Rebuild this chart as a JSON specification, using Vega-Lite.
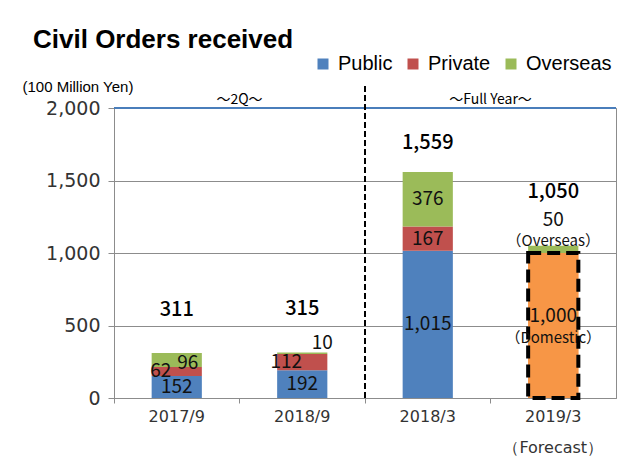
{
"$schema": "https://vega.github.io/schema/vega-lite/v6.json",
"width": 502,
"height": 290,
"autosize": {"type": "none"},
"padding": {"left": 114, "top": 108, "right": 18, "bottom": 63},
"background": "white",
"config": {"view": {"stroke": "#8c8c8c", "strokeWidth": 1}, "font": "Liberation Sans"},
"title": {"text": "Civil Orders received", "anchor": "start", "frame": "group", "dx": -81, "offset": -20, "baseline": "alphabetic", "font": "Liberation Sans", "fontSize": 26, "fontWeight": "bold", "color": "black"},
"datasets": {
  "seg": [
    {"cat": "2017/9", "s": "Public", "v": 152, "o": 1},
    {"cat": "2017/9", "s": "Private", "v": 62, "o": 2},
    {"cat": "2017/9", "s": "Overseas", "v": 96, "o": 3},
    {"cat": "2018/9", "s": "Public", "v": 192, "o": 1},
    {"cat": "2018/9", "s": "Private", "v": 112, "o": 2},
    {"cat": "2018/9", "s": "Overseas", "v": 10, "o": 3},
    {"cat": "2018/3", "s": "Public", "v": 1015, "o": 1},
    {"cat": "2018/3", "s": "Private", "v": 167, "o": 2},
    {"cat": "2018/3", "s": "Overseas", "v": 376, "o": 3},
    {"cat": "2019/3", "s": "Domestic", "v": 1000, "o": 1},
    {"cat": "2019/3", "s": "Overseas", "v": 50, "o": 3}
  ],
  "tot": [
    {"cat": "2017/9", "t": 311},
    {"cat": "2018/9", "t": 315},
    {"cat": "2018/3", "t": 1559},
    {"cat": "2019/3", "t": 1050}
  ],
  "period": [
    {"cat": "2018/9", "label": "～2Q～"},
    {"cat": "2019/3", "label": "～Full Year～"}
  ]
},
"layer": [
  {
    "data": {"name": "seg"},
    "transform": [
      {"stack": "v", "groupby": ["cat"], "sort": [{"field": "o", "order": "ascending"}], "as": ["y0", "y1"]},
      {"fold": ["y0", "y1"], "as": ["kk", "yy"]},
      {"aggregate": [{"op": "min", "field": "yy", "as": "lo"}, {"op": "max", "field": "yy", "as": "hi"}, {"op": "mean", "field": "yy", "as": "mid"}], "groupby": ["cat", "s", "v", "o"]}
    ],
    "layer": [
      {
        "mark": {"type": "bar", "width": {"band": 0.4}},
        "encoding": {
          "x": {"field": "cat", "type": "nominal", "sort": null, "scale": {"domain": ["2017/9", "2018/9", "2018/3", "2019/3"], "paddingInner": 0, "paddingOuter": 0},
                "axis": {"title": null, "labelAngle": 0, "bandPosition": 0, "domainColor": "#8c8c8c", "tickColor": "#8c8c8c", "tickSize": 5, "labelPadding": 5, "labelFont": "DejaVu Sans", "labelFontSize": 16, "labelColor": "#333333", "labelBaseline": "top", "labelLineHeight": 31,
                         "labelExpr": "datum.value == '2019/3' ? ['2019/3', '（Forecast）'] : datum.value"}},
          "y": {"field": "lo", "type": "quantitative", "scale": {"domain": [0, 2000]},
                "axis": {"title": "(100 Million Yen)", "titleAngle": 0, "titleX": -92, "titleY": -22, "titleAlign": "left", "titleBaseline": "middle", "titleFont": "Liberation Sans", "titleFontSize": 15, "titleFontWeight": "normal", "titleColor": "black",
                         "values": [0, 500, 1000, 1500, 2000], "format": ",.0f", "grid": true, "gridColor": "#8c8c8c", "domainColor": "#8c8c8c", "tickColor": "#8c8c8c", "tickSize": 6, "labelPadding": 8, "labelFont": "DejaVu Sans", "labelFontSize": 19, "labelColor": "#333333"}},
          "y2": {"field": "hi"},
          "color": {"field": "s", "type": "nominal", "scale": {"domain": ["Public", "Private", "Overseas", "Domestic"], "range": ["#4f81bd", "#c0504d", "#9bbb59", "#f79646"]},
                    "legend": {"values": ["Public", "Private", "Overseas"], "orient": "none", "legendX": 199, "legendY": -54, "direction": "horizontal", "title": null, "symbolType": "square", "symbolSize": 121, "symbolStrokeWidth": 0, "labelFont": "Liberation Sans", "labelFontSize": 20, "labelColor": "black", "columnPadding": 10, "labelOffset": 5}}
        }
      },
      {
        "transform": [{"filter": {"field": "s", "equal": "Domestic"}}],
        "mark": {"type": "bar", "width": {"band": 0.4}, "fill": "#f79646", "stroke": "black", "strokeWidth": 4, "strokeDash": [13, 6]},
        "encoding": {
          "x": {"field": "cat", "type": "nominal", "sort": null, "scale": {"domain": ["2017/9", "2018/9", "2018/3", "2019/3"]}},
          "y": {"field": "lo", "type": "quantitative", "scale": {"domain": [0, 2000]}},
          "y2": {"field": "hi"}
        }
      },
      {
        "transform": [{"filter": {"field": "v", "oneOf": [152, 192, 1015, 167, 376]}}],
        "mark": {"type": "text", "font": "Noto Sans CJK JP", "fontSize": 19, "color": "#111111", "baseline": "middle"},
        "encoding": {
          "x": {"field": "cat", "type": "nominal", "sort": null, "scale": {"domain": ["2017/9", "2018/9", "2018/3", "2019/3"]}},
          "y": {"field": "mid", "type": "quantitative", "scale": {"domain": [0, 2000]}},
          "text": {"field": "v", "type": "quantitative", "format": ","}
        }
      },
      {
        "transform": [{"filter": {"field": "v", "oneOf": [62, 112]}}],
        "mark": {"type": "text", "font": "Noto Sans CJK JP", "fontSize": 19, "color": "#111111", "baseline": "middle", "dx": -16},
        "encoding": {
          "x": {"field": "cat", "type": "nominal", "sort": null, "scale": {"domain": ["2017/9", "2018/9", "2018/3", "2019/3"]}},
          "y": {"field": "mid", "type": "quantitative", "scale": {"domain": [0, 2000]}},
          "text": {"field": "v", "type": "quantitative", "format": ","}
        }
      },
      {
        "transform": [{"filter": {"field": "v", "equal": 96}}],
        "mark": {"type": "text", "font": "Noto Sans CJK JP", "fontSize": 19, "color": "#111111", "baseline": "middle", "dx": 11, "dy": 3},
        "encoding": {
          "x": {"field": "cat", "type": "nominal", "sort": null, "scale": {"domain": ["2017/9", "2018/9", "2018/3", "2019/3"]}},
          "y": {"field": "mid", "type": "quantitative", "scale": {"domain": [0, 2000]}},
          "text": {"field": "v", "type": "quantitative", "format": ","}
        }
      },
      {
        "transform": [{"filter": {"field": "v", "equal": 10}}],
        "mark": {"type": "text", "font": "Noto Sans CJK JP", "fontSize": 19, "color": "#111111", "baseline": "middle", "dx": 20, "dy": -10},
        "encoding": {
          "x": {"field": "cat", "type": "nominal", "sort": null, "scale": {"domain": ["2017/9", "2018/9", "2018/3", "2019/3"]}},
          "y": {"field": "mid", "type": "quantitative", "scale": {"domain": [0, 2000]}},
          "text": {"field": "v", "type": "quantitative", "format": ","}
        }
      },
      {
        "transform": [{"filter": {"field": "v", "equal": 1000}}],
        "mark": {"type": "text", "font": "Noto Sans CJK JP", "fontSize": 19, "color": "#111111", "baseline": "middle", "dy": -10},
        "encoding": {
          "x": {"field": "cat", "type": "nominal", "sort": null, "scale": {"domain": ["2017/9", "2018/9", "2018/3", "2019/3"]}},
          "y": {"field": "mid", "type": "quantitative", "scale": {"domain": [0, 2000]}},
          "text": {"field": "v", "type": "quantitative", "format": ","}
        }
      },
      {
        "transform": [{"filter": {"field": "v", "equal": 1000}}],
        "mark": {"type": "text", "font": "Noto Sans CJK JP", "fontSize": 15, "color": "#111111", "baseline": "middle", "dy": 12, "text": "（Domestic）"},
        "encoding": {
          "x": {"field": "cat", "type": "nominal", "sort": null, "scale": {"domain": ["2017/9", "2018/9", "2018/3", "2019/3"]}},
          "y": {"field": "mid", "type": "quantitative", "scale": {"domain": [0, 2000]}}
        }
      },
      {
        "transform": [{"filter": {"field": "v", "equal": 50}}],
        "mark": {"type": "text", "font": "Noto Sans CJK JP", "fontSize": 19, "color": "#111111", "baseline": "middle", "dy": -29},
        "encoding": {
          "x": {"field": "cat", "type": "nominal", "sort": null, "scale": {"domain": ["2017/9", "2018/9", "2018/3", "2019/3"]}},
          "y": {"field": "mid", "type": "quantitative", "scale": {"domain": [0, 2000]}},
          "text": {"field": "v", "type": "quantitative", "format": ","}
        }
      },
      {
        "transform": [{"filter": {"field": "v", "equal": 50}}],
        "mark": {"type": "text", "font": "Noto Sans CJK JP", "fontSize": 15, "color": "#111111", "baseline": "middle", "dy": -8, "text": "（Overseas）"},
        "encoding": {
          "x": {"field": "cat", "type": "nominal", "sort": null, "scale": {"domain": ["2017/9", "2018/9", "2018/3", "2019/3"]}},
          "y": {"field": "mid", "type": "quantitative", "scale": {"domain": [0, 2000]}}
        }
      }
    ]
  },
  {
    "data": {"name": "tot"},
    "layer": [
      {
        "transform": [{"filter": {"field": "cat", "oneOf": ["2017/9", "2018/9"]}}],
        "mark": {"type": "text", "font": "Noto Sans CJK JP", "fontSize": 20, "fontWeight": 500, "color": "black", "baseline": "middle", "dy": -43},
        "encoding": {
          "x": {"field": "cat", "type": "nominal", "sort": null, "scale": {"domain": ["2017/9", "2018/9", "2018/3", "2019/3"]}},
          "y": {"field": "t", "type": "quantitative", "scale": {"domain": [0, 2000]}},
          "text": {"field": "t", "type": "quantitative", "format": ","}
        }
      },
      {
        "transform": [{"filter": {"field": "cat", "equal": "2018/3"}}],
        "mark": {"type": "text", "font": "Noto Sans CJK JP", "fontSize": 20, "fontWeight": 500, "color": "black", "baseline": "middle", "dy": -29},
        "encoding": {
          "x": {"field": "cat", "type": "nominal", "sort": null, "scale": {"domain": ["2017/9", "2018/9", "2018/3", "2019/3"]}},
          "y": {"field": "t", "type": "quantitative", "scale": {"domain": [0, 2000]}},
          "text": {"field": "t", "type": "quantitative", "format": ","}
        }
      },
      {
        "transform": [{"filter": {"field": "cat", "equal": "2019/3"}}],
        "mark": {"type": "text", "font": "Noto Sans CJK JP", "fontSize": 20, "fontWeight": 500, "color": "black", "baseline": "middle", "dy": -54},
        "encoding": {
          "x": {"field": "cat", "type": "nominal", "sort": null, "scale": {"domain": ["2017/9", "2018/9", "2018/3", "2019/3"]}},
          "y": {"field": "t", "type": "quantitative", "scale": {"domain": [0, 2000]}},
          "text": {"field": "t", "type": "quantitative", "format": ","}
        }
      }
    ]
  },
  {
    "data": {"name": "period"},
    "mark": {"type": "text", "font": "Noto Sans CJK JP", "fontSize": 14, "color": "black", "baseline": "middle", "dy": -8},
    "encoding": {
      "x": {"field": "cat", "type": "nominal", "sort": null, "bandPosition": 0, "scale": {"domain": ["2017/9", "2018/9", "2018/3", "2019/3"]}},
      "y": {"datum": 2000, "type": "quantitative", "scale": {"domain": [0, 2000]}},
      "text": {"field": "label"}
    }
  },
  {
    "data": {"values": [{}]},
    "mark": {"type": "rule", "color": "#4a7ebb", "strokeWidth": 2},
    "encoding": {"y": {"datum": 2000, "type": "quantitative", "scale": {"domain": [0, 2000]}}}
  },
  {
    "data": {"values": [{}]},
    "mark": {"type": "rule", "color": "black", "strokeWidth": 2, "strokeDash": [6, 3]},
    "encoding": {
      "x": {"datum": "2018/3", "type": "nominal", "bandPosition": 0, "scale": {"domain": ["2017/9", "2018/9", "2018/3", "2019/3"]}},
      "y": {"datum": 0, "type": "quantitative", "scale": {"domain": [0, 2000]}},
      "y2": {"datum": 2170}
    }
  }
]
}
